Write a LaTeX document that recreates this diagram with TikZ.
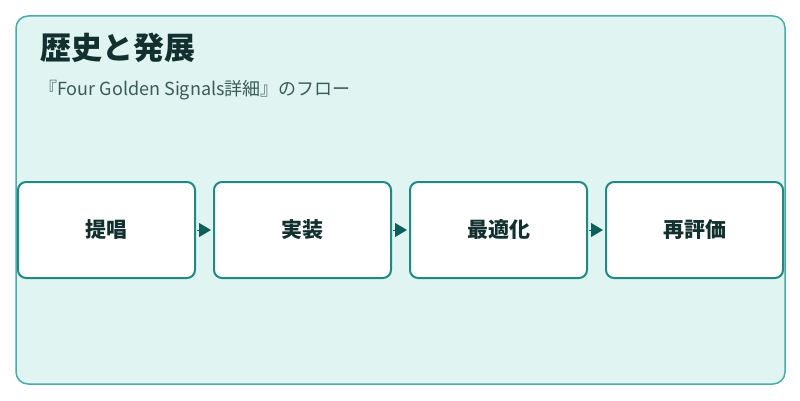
\documentclass[tikz,border=0pt]{standalone}
\usepackage{fontspec}
\setmainfont{Noto Sans CJK JP}
\usetikzlibrary{arrows.meta}
\usetikzlibrary{positioning}
\definecolor{panelfill}{HTML}{E0F4F2}
\definecolor{panelline}{HTML}{4AABAB}
\definecolor{stageline}{HTML}{1F8A84}
\definecolor{flowtip}{HTML}{0D5F5A}
\definecolor{titleink}{HTML}{12302E}
\definecolor{subink}{HTML}{3B5B58}
\tikzset{flow/.style={draw=flowtip, line width=1pt, shorten <=1pt, shorten >=2pt, -{Triangle[length=12pt,width=14pt]}, color=flowtip}}

\begin{document}
\begin{tikzpicture}[x=1pt, y=1pt]
	% Default action for each stage box
	\tikzstyle{stage}=[draw=stageline, fill=white, line width=2pt, rounded corners=8pt, minimum width=177pt, minimum height=96pt, text=titleink, font=\fontsize{21}{24}\selectfont\bfseries];

	\useasboundingbox (0,0) rectangle (800,400);
	\draw[draw=panelline, fill=panelfill, line width=1.5pt, rounded corners=12pt] (16,16) rectangle (785,384);

	% Heading
	\node[anchor=base west, inner sep=0pt, text=titleink, font=\fontsize{31}{35}\selectfont\bfseries] (title) at (40,341) {歴史と発展};
	\node[anchor=base west, inner sep=0pt, text=subink, font=\fontsize{18}{21}\selectfont] (subtitle) at (39,305) {『Four Golden Signals詳細』のフロー};

	% Stages
	\node[stage] (propose) at (106.5,170) {提唱};
	\node[stage] (build) at (302.5,170) {実装};
	\node[stage] (tune) at (498.5,170) {最適化};
	\node[stage] (review) at (694.5,170) {再評価};

	% Arrows
	\draw[flow] (propose) -- (build);
	\draw[flow] (build) -- (tune);
	\draw[flow] (tune) -- (review);
\end{tikzpicture}
\end{document}
